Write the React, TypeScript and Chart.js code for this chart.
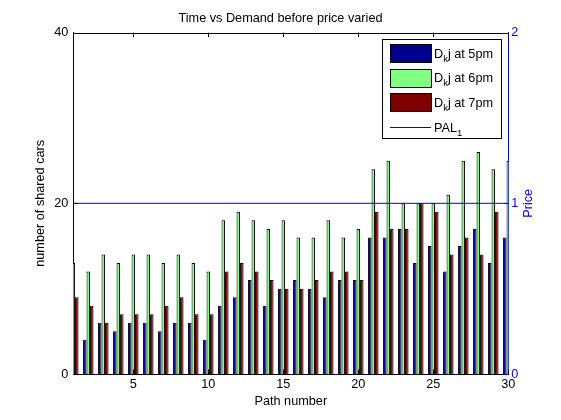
import React, { useEffect, useRef } from "react";
import { Chart, registerables } from "chart.js";

Chart.register(...registerables);

const FONT = "'Liberation Sans', Arial, Helvetica, sans-serif";
const FS = 12.7;

const pathNumbers = [1, 2, 3, 4, 5, 6, 7, 8, 9, 10, 11, 12, 13, 14, 15, 16, 17, 18, 19, 20, 21, 22, 23, 24, 25, 26, 27, 28, 29, 30];
const demand5pm = [5, 4, 6, 5, 6, 6, 5, 6, 6, 4, 8, 9, 11, 8, 10, 11, 10, 9, 11, 11, 16, 16, 17, 13, 15, 12, 15, 17, 13, 16];
const demand6pm = [13, 12, 14, 13, 14, 14, 13, 14, 13, 12, 18, 19, 18, 17, 18, 16, 16, 18, 16, 17, 24, 25, 20, 20, 20, 21, 25, 26, 24, 25];
const demand7pm = [9, 8, 6, 7, 7, 7, 8, 9, 7, 7, 12, 13, 12, 11, 10, 10, 11, 12, 12, 11, 19, 17, 17, 20, 19, 14, 16, 14, 19, 18];
const seriesLabels = ["D_kj at 5pm", "D_kj at 6pm", "D_kj at 7pm"];
const seriesColors = ["#00008F", "#80FF80", "#800000"];
const palLabel = "PAL_1";
const palPath = [1, 30];
const palPrice = [1, 1];
const xTicks = [5, 10, 15, 20, 25, 30];
const leftTicks = [0, 20, 40];
const rightTicks = [0, 1, 2];
const titleText = "Time vs Demand before price varied";
const xTitle = "Path number";
const yTitle = "number of shared cars";
const y2Title = "Price";

const BLUE = "#0000FF";
const LINE_BLUE = "#0000E6";
const TICK_LEN = 4.5;

function drawRich(ctx: CanvasRenderingContext2D, text: string, x: number, baseline: number) {
  const parts = text.split(/(_.)/).filter((p) => p.length > 0);
  let cx = x;
  for (const p of parts) {
    if (p.startsWith("_") && p.length === 2) {
      ctx.font = `9.5px ${FONT}`;
      ctx.fillText(p[1], cx, baseline + 4);
      cx += ctx.measureText(p[1]).width;
    } else {
      ctx.font = `${FS}px ${FONT}`;
      ctx.fillText(p, cx, baseline);
      cx += ctx.measureText(p).width;
    }
  }
}

const decorPlugin = {
  id: "decor",
  afterDatasetsDraw(chart: any) {
    const { ctx, chartArea: a, scales } = chart;
    ctx.save();
    ctx.lineWidth = 1;
    ctx.strokeStyle = "#000";
    ctx.beginPath();
    ctx.moveTo(a.left, Math.round(a.top) + 0.5);
    ctx.lineTo(a.right, Math.round(a.top) + 0.5);
    ctx.stroke();
    ctx.beginPath();
    for (const t of scales.x.ticks) {
      const px = Math.round(scales.x.getPixelForValue(t.value)) + 0.5;
      ctx.moveTo(px, a.bottom);
      ctx.lineTo(px, a.bottom - TICK_LEN);
      ctx.moveTo(px, a.top);
      ctx.lineTo(px, a.top + TICK_LEN);
    }
    for (const t of scales.y.ticks) {
      const py = Math.round(scales.y.getPixelForValue(t.value)) + 0.5;
      ctx.moveTo(a.left, py);
      ctx.lineTo(a.left + TICK_LEN, py);
    }
    ctx.stroke();
    ctx.strokeStyle = BLUE;
    ctx.beginPath();
    for (const t of scales.y1.ticks) {
      const py = Math.round(scales.y1.getPixelForValue(t.value)) + 0.5;
      ctx.moveTo(a.right, py);
      ctx.lineTo(a.right - TICK_LEN, py);
    }
    ctx.stroke();
    ctx.restore();
  },
  afterDraw(chart: any) {
    const { ctx, chartArea: a } = chart;
    ctx.save();
    ctx.fillStyle = BLUE;
    ctx.font = `${FS}px ${FONT}`;
    ctx.textAlign = "center";
    ctx.textBaseline = "middle";
    ctx.translate(528, (a.top + a.bottom) / 2);
    ctx.rotate(-Math.PI / 2);
    ctx.fillText(y2Title, 0, 0);
    ctx.restore();

    const ds = chart.data.datasets;
    const entries = [
      ...ds.filter((d: any) => d.type === "bar"),
      ...ds.filter((d: any) => d.type === "line"),
    ];
    const bx = 382.5, by = 39.5, bw = 119, bh = 99;
    ctx.save();
    ctx.fillStyle = "#fff";
    ctx.fillRect(bx, by, bw, bh);
    ctx.strokeStyle = "#000";
    ctx.lineWidth = 1;
    ctx.strokeRect(bx, by, bw, bh);
    entries.forEach((d: any, i: number) => {
      const cy = 53 + i * 24.7;
      if (d.type === "bar") {
        ctx.fillStyle = d.backgroundColor;
        ctx.fillRect(390.5, Math.round(cy - 9) + 0.5, 41, 18);
        ctx.strokeStyle = "#000";
        ctx.strokeRect(390.5, Math.round(cy - 9) + 0.5, 41, 18);
      } else {
        ctx.strokeStyle = BLUE;
        ctx.beginPath();
        ctx.moveTo(390, Math.round(cy) + 0.5);
        ctx.lineTo(431, Math.round(cy) + 0.5);
        ctx.stroke();
      }
      ctx.fillStyle = "#000";
      ctx.textAlign = "left";
      ctx.textBaseline = "alphabetic";
      drawRich(ctx, d.label, 434, cy + 4.5);
    });
    ctx.restore();
  },
};

export default function App() {
  const ref = useRef<HTMLCanvasElement | null>(null);

  useEffect(() => {
    if (!ref.current) return;
    const series = [demand5pm, demand6pm, demand7pm];
    const datasets: any[] = [
      {
        type: "line",
        label: palLabel,
        data: palPath.map((p, i) => ({ x: p, y: palPrice[i] })),
        xAxisID: "x",
        yAxisID: "y1",
        borderColor: LINE_BLUE,
        borderWidth: 1,
        pointRadius: 0,
        order: 0,
        clip: 0,
      },
      ...series.map((vals, s) => ({
        type: "bar",
        label: seriesLabels[s],
        data: pathNumbers.map((p, i) => ({ x: p, y: vals[i] })),
        backgroundColor: seriesColors[s],
        borderColor: "#000",
        borderWidth: 1,
        categoryPercentage: 0.7,
        barPercentage: 1,
        xAxisID: "x",
        yAxisID: "y",
        order: 1,
        clip: 0,
      })),
    ];

    const chart = new Chart(ref.current, {
      type: "bar",
      data: { datasets },
      options: {
        responsive: false,
        animation: false,
        events: [],
        layout: { padding: 0 },
        plugins: {
          legend: { display: false },
          tooltip: { enabled: false },
          title: {
            display: true,
            text: titleText,
            color: "#000",
            font: { family: FONT, size: FS, weight: "normal" },
            padding: { top: 10.7, bottom: 6.66 },
          },
        },
        scales: {
          x: {
            type: "linear",
            position: "bottom",
            min: 1,
            max: 30,
            offset: false,
            afterBuildTicks: (s: any) => {
              s.ticks = xTicks.map((v) => ({ value: v }));
            },
            afterFit: (s: any) => {
              s.height = 46;
            },
            grid: { display: false, drawTicks: false },
            border: { display: true, color: "#000", width: 1 },
            ticks: {
              color: "#000",
              font: { family: FONT, size: FS },
              padding: 3,
              maxRotation: 0,
              autoSkip: false,
            },
            title: {
              display: true,
              text: xTitle,
              color: "#000",
              font: { family: FONT, size: FS },
              padding: { top: 0, bottom: 11 },
            },
          },
          y: {
            type: "linear",
            position: "left",
            min: 0,
            max: 40,
            afterBuildTicks: (s: any) => {
              s.ticks = leftTicks.map((v) => ({ value: v }));
            },
            afterFit: (s: any) => {
              s.width = 73.3;
            },
            grid: { display: false, drawTicks: false },
            border: { display: true, color: "#000", width: 1 },
            ticks: { color: "#000", font: { family: FONT, size: FS }, padding: 5 },
            title: {
              display: true,
              text: yTitle,
              color: "#000",
              font: { family: FONT, size: FS },
              padding: { top: 32.4, bottom: 0 },
            },
          },
          y1: {
            type: "linear",
            position: "right",
            min: 0,
            max: 2,
            afterBuildTicks: (s: any) => {
              s.ticks = rightTicks.map((v) => ({ value: v }));
            },
            afterFit: (s: any) => {
              s.width = 52.7;
            },
            grid: { display: false, drawTicks: false },
            border: { display: true, color: BLUE, width: 1 },
            ticks: { color: BLUE, font: { family: FONT, size: FS }, padding: 3 },
          },
        },
      } as any,
      plugins: [decorPlugin],
    });
    return () => chart.destroy();
  }, []);

  return (
    <div style={{ position: "absolute", left: 0, top: 0, width: 561, height: 420, background: "#fff" }}>
      <canvas ref={ref} width={561} height={420} style={{ width: 561, height: 420, display: "block" }} />
    </div>
  );
}
